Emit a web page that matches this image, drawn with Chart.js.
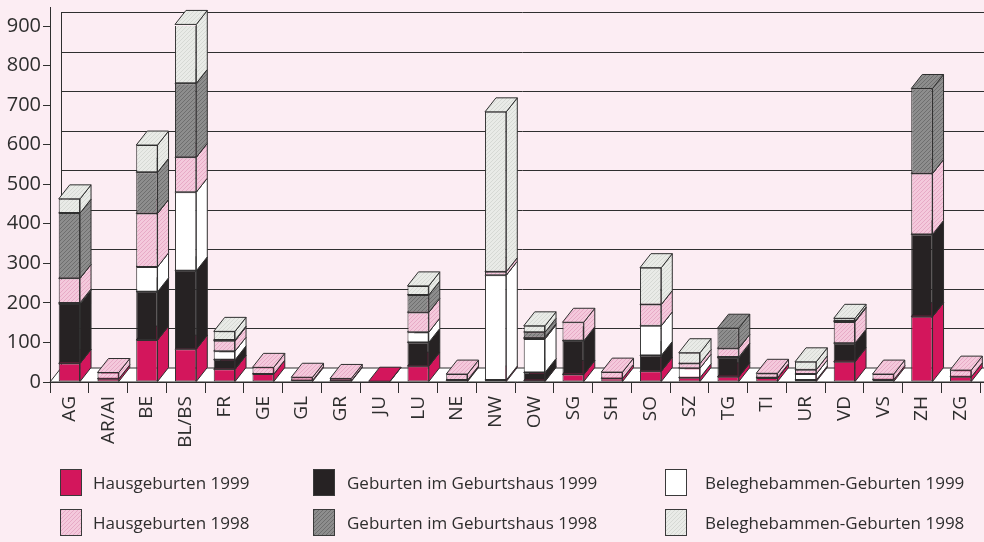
<!DOCTYPE html>
<html>
<head>
<meta charset="utf-8">
<script src="https://cdn.jsdelivr.net/npm/chart.js@4/dist/chart.umd.min.js"></script>
<style>
  html, body { margin: 0; padding: 0; background: #fcedf3; }
  #wrap { position: relative; width: 984px; height: 542px; }
  .item { position: absolute; height: 27px; display: flex; align-items: center;
          font: 17px "Open Sans", sans-serif; color: #2e2e2e; white-space: nowrap; }
  .box { position: absolute; width: 22px; height: 27px; border: 1px solid #3a3a3a; box-sizing: border-box; }
</style>
</head>
<body>
<div id="wrap">
  <canvas id="chart" width="984" height="542"></canvas>
  <div id="legend"></div>
</div>
<script>
// cantons
const cantons = ["AG", "AR/AI", "BE", "BL/BS", "FR", "GE", "GL", "GR", "JU", "LU", "NE", "NW",
                 "OW", "SG", "SH", "SO", "SZ", "TG", "TI", "UR", "VD", "VS", "ZH", "ZG"];

// stacked bottom -> top
const haus99   = [47, 8, 106, 83, 32, 20, 4, 3, 2, 40, 4, 5, 3, 19, 9, 27, 11, 13, 10, 5, 51, 6, 165, 13];
const gh99     = [150, 0, 122, 198, 24, 0, 0, 0, 0, 60, 1, 0, 21, 85, 0, 40, 0, 48, 1, 0, 47, 0, 208, 0];
const beleg99  = [3, 0, 63, 199, 22, 0, 0, 0, 0, 26, 0, 265, 85, 0, 0, 75, 24, 2, 0, 15, 0, 0, 0, 0];
const haus98   = [62, 16, 135, 88, 26, 17, 8, 6, 0, 50, 15, 9, 3, 47, 16, 54, 12, 22, 11, 11, 54, 14, 154, 17];
const gh98     = [165, 0, 104, 187, 2, 0, 0, 0, 0, 44, 0, 0, 14, 0, 0, 0, 0, 51, 0, 0, 2, 0, 215, 0];
const beleg98  = [36, 0, 69, 149, 22, 0, 0, 0, 0, 23, 0, 404, 16, 0, 0, 93, 27, 0, 0, 20, 7, 0, 0, 0];

const seriesNames = ["Hausgeburten 1999", "Geburten im Geburtshaus 1999", "Beleghebammen-Geburten 1999",
                     "Hausgeburten 1998", "Geburten im Geburtshaus 1998", "Beleghebammen-Geburten 1998"];
const yMax = 900, yStep = 100;

const DX = 11, DY = 14;
const LINE = "#2f2f2f";

// small screened tile, like the printed raster
function tile(base, dot) {
  const c = document.createElement("canvas");
  c.width = c.height = 4;
  const g = c.getContext("2d");
  g.fillStyle = base; g.fillRect(0, 0, 4, 4);
  if (dot) { g.fillStyle = dot; g.fillRect(0, 0, 1, 1); g.fillRect(2, 2, 1, 1); g.fillRect(1, 3, 1, 1); g.fillRect(3, 1, 1, 1); }
  return c;
}
const tiles = [
  tile("#d3165c"),
  tile("#262223"),
  tile("#ffffff"),
  tile("#f4c9dc", "#e7aac6"),
  tile("#8d8d8d", "#6e6e6e"),
  tile("#e9ebe7", "#d6d9d4")
];
const ctx0 = document.getElementById("chart").getContext("2d");
const fills = tiles.map(t => ctx0.createPattern(t, "repeat"));

const values = [haus99, gh99, beleg99, haus98, gh98, beleg98];

function poly(ctx, pts, fill) {
  ctx.beginPath();
  ctx.moveTo(pts[0][0], pts[0][1]);
  for (let k = 1; k < pts.length; k++) ctx.lineTo(pts[k][0], pts[k][1]);
  ctx.closePath();
  ctx.fillStyle = fill;
  ctx.fill();
  ctx.stroke();
}

const depthPlugin = {
  id: "depth",
  beforeDatasetsDraw(chart) {
    const { ctx, chartArea: a, scales: { y } } = chart;
    ctx.save();
    ctx.strokeStyle = LINE;
    ctx.lineWidth = 1;

    // back gridlines + wall
    y.ticks.forEach(t => {
      const py = Math.round(y.getPixelForValue(t.value) - DY) + 0.5;
      ctx.beginPath(); ctx.moveTo(a.left + DX, py); ctx.lineTo(chart.width, py); ctx.stroke();
    });
    ctx.beginPath();
    ctx.moveTo(a.left + DX + 0.5, y.getPixelForValue(yMax) - DY);
    ctx.lineTo(a.left + DX + 0.5, a.bottom - DY);
    ctx.stroke();

    // floor
    poly(ctx, [[a.left, a.bottom], [chart.width + 2, a.bottom], [chart.width + 2, a.bottom - DY], [a.left + DX, a.bottom - DY]], "#ffffff");

    // side and top faces
    const ds = chart.data.datasets;
    for (let j = 0; j < chart.data.labels.length; j++) {
      for (let i = 0; i < ds.length; i++) {
        if (!ds[i].data[j]) continue;
        const el = chart.getDatasetMeta(i).data[j];
        const l = el.x - el.width / 2, r = el.x + el.width / 2, t = el.y, b = el.base;
        poly(ctx, [[r, t], [r + DX, t - DY], [r + DX, b - DY], [r, b]], ds[i].backgroundColor);
        poly(ctx, [[l, t], [r, t], [r + DX, t - DY], [l + DX, t - DY]], ds[i].backgroundColor);
      }
    }
    ctx.restore();
  },
  afterDraw(chart) {
    const { ctx, chartArea: a } = chart;
    ctx.save();
    ctx.strokeStyle = LINE;
    ctx.beginPath();
    ctx.moveTo(a.left + 0.5, 7); ctx.lineTo(a.left + 0.5, a.top); ctx.stroke();
    ctx.beginPath();
    ctx.moveTo(a.right, a.bottom + 0.5); ctx.lineTo(chart.width, a.bottom + 0.5); ctx.stroke();
    ctx.restore();
  }
};

const chart = new Chart(ctx0, {
  type: "bar",
  data: {
    labels: cantons,
    datasets: values.map((v, i) => ({
      label: seriesNames[i],
      data: v,
      backgroundColor: fills[i],
      borderColor: LINE,
      borderWidth: 1,
      borderSkipped: false,
      barPercentage: 0.55,
      categoryPercentage: 1
    }))
  },
  options: {
    responsive: false,
    animation: false,
    layout: { padding: { top: 26, right: 4, bottom: 80, left: 0 } },
    plugins: { legend: { display: false }, tooltip: { enabled: false } },
    scales: {
      x: {
        stacked: true,
        grid: { drawOnChartArea: false, tickLength: 11, color: LINE, offset: true },
        border: { color: LINE },
        ticks: { color: "#2e2e2e", font: { family: "Open Sans", size: 19 }, minRotation: 90, maxRotation: 90, autoSkip: false, padding: 3 },
        afterFit(s) { s.height = 80; s.paddingLeft = 0; s.paddingRight = 0; }
      },
      y: {
        stacked: true,
        min: 0,
        max: yMax,
        grid: { drawOnChartArea: false, tickLength: 7, color: LINE },
        border: { color: LINE },
        ticks: { stepSize: yStep, color: "#2e2e2e", font: { family: "Open Sans", size: 20 }, padding: 2 },
        afterFit(s) { s.width = 50; }
      }
    }
  },
  plugins: [depthPlugin]
});

// legend: 3 columns x 2 rows
const boxX = [60, 313, 665], textX = [93, 347, 705], rowY = [469, 509];
const legend = document.getElementById("legend");
chart.data.datasets.forEach((d, i) => {
  const col = i % 3, row = Math.floor(i / 3);
  const box = document.createElement("div");
  box.className = "box";
  box.style.left = boxX[col] + "px";
  box.style.top = rowY[row] + "px";
  box.style.backgroundImage = "url(" + tiles[i].toDataURL() + ")";
  legend.appendChild(box);
  const txt = document.createElement("div");
  txt.className = "item";
  txt.style.left = textX[col] + "px";
  txt.style.top = rowY[row] + "px";
  txt.textContent = d.label;
  legend.appendChild(txt);
});
</script>
</body>
</html>
